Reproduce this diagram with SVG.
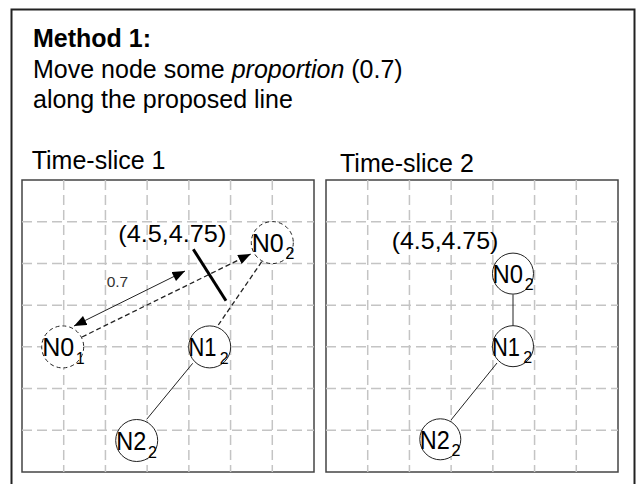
<svg xmlns="http://www.w3.org/2000/svg" width="637" height="484" viewBox="0 0 637 484">
<style>
text{font-family:"Liberation Sans",Arial,sans-serif;fill:#000}
.h{font-size:25px}
.b{font-weight:bold}
.frame{fill:none;stroke:#222;stroke-width:2}
.panel{fill:#fff;stroke:#444;stroke-width:1.5}
.grid{fill:none;stroke:#c4c4c4;stroke-width:1.5;stroke-dasharray:10 5}
.node{fill:#fff;stroke:#222;stroke-width:1}
.ghost{fill:#fff;stroke:#222;stroke-width:1;stroke-dasharray:4 3}
.lbl{font-size:26px}
.sub{font-size:16px}
.coord{font-size:24px}
.edge{fill:none;stroke:#222;stroke-width:1}
.dash{fill:none;stroke:#222;stroke-width:1.3;stroke-dasharray:5 3}
</style>
<defs>
<marker id="ah" viewBox="0 0 10 8" refX="10" refY="4" markerUnits="userSpaceOnUse" markerWidth="13" markerHeight="10" orient="auto-start-reverse">
<path d="M0,0 L10,4 L0,8 z" fill="#000"/>
</marker>
</defs>
<rect x="0" y="0" width="637" height="484" fill="#fff"/>
<rect class="frame" x="11.5" y="9.5" width="623" height="490"/>
<text class="h b" x="33" y="46.7">Method 1:</text>
<text class="h" x="33" y="78.3">Move node some <tspan font-style="italic">proportion</tspan> (0.7)</text>
<text class="h" x="33" y="107.5">along the proposed line</text>
<text class="h" x="31.7" y="169.3">Time-slice 1</text>
<text class="h" x="340" y="171.7">Time-slice 2</text>

<g id="panel1">
<rect class="panel" x="22" y="180" width="292" height="292"/>
<path class="grid" d="M63.71,180V472M105.43,180V472M147.14,180V472M188.86,180V472M230.57,180V472M272.29,180V472M22,221.71H314M22,263.43H314M22,305.14H314M22,346.86H314M22,388.57H314M22,430.29H314"/>
</g>
<g id="panel2">
<rect class="panel" x="326" y="180" width="292" height="292"/>
<path class="grid" d="M367.71,180V472M409.43,180V472M451.14,180V472M492.86,180V472M534.57,180V472M576.29,180V472M326,221.71H618M326,263.43H618M326,305.14H618M326,346.86H618M326,388.57H618M326,430.29H618"/>
</g>

<g id="connectors">
<line class="edge" x1="74" y1="326" x2="185" y2="271" marker-start="url(#ah)" marker-end="url(#ah)"/>
<line class="dash" x1="82" y1="337" x2="250.7" y2="254" marker-end="url(#ah)"/>
<line class="dash" x1="261.7" y1="261.7" x2="218.3" y2="325"/>
<line x1="193.3" y1="249.3" x2="226" y2="300.7" stroke="#000" stroke-width="3"/>
<line class="edge" x1="192.7" y1="363.3" x2="146.7" y2="419.3"/>
<line class="edge" x1="513" y1="294.5" x2="513" y2="326"/>
<line class="edge" x1="497" y1="363" x2="451" y2="420"/>
</g>
<text x="106.7" y="287" font-size="15.5" style="fill:#333">0.7</text>
<text class="coord" x="118.3" y="241.7" textLength="108" lengthAdjust="spacingAndGlyphs">(4.5,4.75)</text>
<text class="coord" x="391.7" y="249.3" textLength="106.7" lengthAdjust="spacingAndGlyphs">(4.5,4.75)</text>

<g id="n01">
<circle class="ghost" cx="62.7" cy="346.9" r="21"/>
<text class="lbl" x="42.2" y="356.4"><tspan textLength="32" lengthAdjust="spacingAndGlyphs">N0</tspan><tspan class="sub" x="75.8" y="363.6">1</tspan></text>
</g>
<g id="n02a">
<circle class="ghost" cx="272.3" cy="242.6" r="21"/>
<text class="lbl" x="251.8" y="252.1"><tspan textLength="32" lengthAdjust="spacingAndGlyphs">N0</tspan><tspan class="sub" x="285.4" y="259.3">2</tspan></text>
</g>
<g id="n12a">
<circle class="node" cx="209.7" cy="346.9" r="21"/>
<text class="lbl" x="188.5" y="356.4"><tspan textLength="28" lengthAdjust="spacingAndGlyphs">N1</tspan><tspan class="sub" x="219.8" y="364.2">2</tspan></text>
</g>
<g id="n22a">
<circle class="node" cx="136.7" cy="440.5" r="21"/>
<text class="lbl" x="116.2" y="450"><tspan textLength="30" lengthAdjust="spacingAndGlyphs">N2</tspan><tspan class="sub" x="148" y="457.7">2</tspan></text>
</g>
<g id="n02b">
<circle class="node" cx="513" cy="273.6" r="20.5"/>
<text class="lbl" x="492.5" y="282.8"><tspan textLength="30.5" lengthAdjust="spacingAndGlyphs">N0</tspan><tspan class="sub" x="524.8" y="290">2</tspan></text>
</g>
<g id="n12b">
<circle class="node" cx="513" cy="346.2" r="20.5"/>
<text class="lbl" x="492" y="355.6"><tspan textLength="28" lengthAdjust="spacingAndGlyphs">N1</tspan><tspan class="sub" x="523.3" y="363.2">2</tspan></text>
</g>
<g id="n22b">
<circle class="node" cx="440.3" cy="439.3" r="20.5"/>
<text class="lbl" x="419.8" y="448.7"><tspan textLength="30" lengthAdjust="spacingAndGlyphs">N2</tspan><tspan class="sub" x="451.6" y="456.2">2</tspan></text>
</g>
</svg>
